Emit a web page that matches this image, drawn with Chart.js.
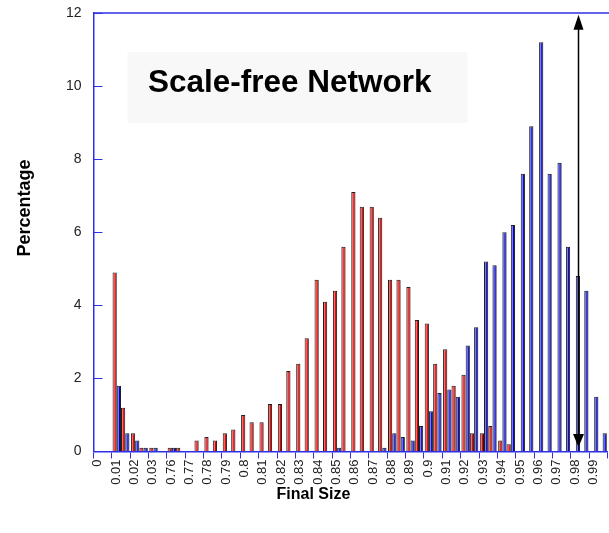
<!DOCTYPE html>
<html>
<head>
<meta charset="utf-8">
<script src="https://cdn.jsdelivr.net/npm/chart.js@4.4.1/dist/chart.umd.min.js"></script>
<style>
  html, body { margin: 0; padding: 0; background: #fff; overflow: hidden; }
  canvas { display: block; }
</style>
</head>
<body>
<canvas id="sizeChart" width="615" height="533"></canvas>
<script>
// bins of final size; each bin has two half-bins, one red and one blue bar in each
var sizes = ['0', '0.01', '0.02', '0.03', '0.76', '0.77', '0.78', '0.79', '0.8', '0.81',
             '0.82', '0.83', '0.84', '0.85', '0.86', '0.87', '0.88', '0.89', '0.9', '0.91',
             '0.92', '0.93', '0.94', '0.95', '0.96', '0.97', '0.98', '0.99'];

var redFirst   = [null, 4.9, 0.5, 0.1, 0.1, null, 0.4, 0.5, 1.0, 0.8, 1.3, 2.4, 4.7, 4.4,
                  7.1, 6.7, 4.7, 4.5, 3.5, 2.8, 2.1, 0.5, 0.3, null, null, null, null, null];
var blueFirst  = [null, 1.8, 0.3, 0.1, 0.1, null, null, null, null, null, null, null, null, 0.1,
                  null, null, 0.5, 0.3, 1.1, 1.7, 2.9, 5.2, 6.0, 7.6, 11.2, 7.9, 4.8, 1.5];
var redSecond  = [null, 1.2, 0.1, null, 0.1, 0.3, 0.3, 0.6, 0.8, 1.3, 2.2, 3.1, 4.1, 5.6,
                  6.7, 6.4, 4.7, 3.6, 2.4, 1.8, 0.5, 0.7, 0.2, null, null, null, null, null];
var blueSecond = [null, 0.5, 0.1, null, null, null, null, null, null, null, null, null, null, null,
                  null, 0.1, 0.4, 0.7, 1.6, 1.5, 3.4, 5.1, 6.2, 8.9, 7.6, 5.6, 4.4, 0.5];

var yTicks = [0, 2, 4, 6, 8, 10, 12];

var axisBlue = '#2f2fe8';
var red = '#e00000';
var blue = '#0000c8';
var edge = '#1e1e1e';
var boldFont = '"Liberation Sans", Arial, sans-serif';

Chart.defaults.font.family = boldFont;
Chart.defaults.color = '#222';

// inside ticks on the y axis, top frame line, titles, bar highlights and the range arrow
var decorations = {
    id: 'decorations',
    beforeDatasetsDraw: function(chart) {
        var ctx = chart.ctx;
        var a = chart.chartArea;
        ctx.save();
        ctx.fillStyle = '#f8f8f8';
        ctx.fillRect(a.left + 34, a.top + 39, 340, 71);
        ctx.fillStyle = '#000';
        ctx.font = 'bold 31.5px ' + boldFont;
        ctx.textAlign = 'left';
        ctx.textBaseline = 'alphabetic';
        ctx.fillText('Scale-free Network', a.left + 54.5, a.top + 78.5);

        // axis titles
        ctx.textAlign = 'center';
        ctx.textBaseline = 'middle';
        ctx.font = 'bold 16px ' + boldFont;
        ctx.fillText('Final Size', a.left + 220, a.bottom + 43);
        ctx.translate(25, a.top + 195);
        ctx.rotate(-Math.PI / 2);
        ctx.font = 'bold 18px ' + boldFont;
        ctx.fillText('Percentage', 0, 0);
        ctx.restore();
    },
    afterDatasetsDraw: function(chart) {
        var ctx = chart.ctx;
        var a = chart.chartArea;
        var y = chart.scales.y;
        ctx.save();

        // pale stripe down the left side of every bar
        chart.data.datasets.forEach(function(ds, i) {
            var tint = i % 2 === 0 ? 'rgba(255,220,220,0.5)' : 'rgba(205,210,255,0.6)';
            chart.getDatasetMeta(i).data.forEach(function(el, j) {
                if (ds.data[j] == null) return;
                var h = el.base - el.y;
                if (h < 3) return;
                ctx.fillStyle = tint;
                ctx.fillRect(el.x - el.width / 2 + 1, el.y + 1, 1.2, h - 1);
            });
        });

        ctx.strokeStyle = axisBlue;
        ctx.lineWidth = 1.5;
        ctx.beginPath();
        ctx.moveTo(a.left, a.top);
        ctx.lineTo(chart.width, a.top);
        ctx.stroke();
        ctx.lineWidth = 1;
        yTicks.forEach(function(v) {
            var py = Math.round(y.getPixelForValue(v)) + 0.5;
            ctx.beginPath();
            ctx.moveTo(a.left, py);
            ctx.lineTo(a.left + 9, py);
            ctx.stroke();
        });

        // double arrow over the 0.98 bin
        var bar = chart.getDatasetMeta(1).data[26];
        var ax = Math.round(bar.x) + 0.5;
        var top = y.getPixelForValue(11.95);
        var bottom = y.getPixelForValue(0.12);
        ctx.strokeStyle = '#000';
        ctx.fillStyle = '#000';
        ctx.lineWidth = 1.5;
        ctx.beginPath();
        ctx.moveTo(ax, top + 8);
        ctx.lineTo(ax, bottom - 8);
        ctx.stroke();
        ctx.beginPath();
        ctx.moveTo(ax, top);
        ctx.lineTo(ax - 5, top + 15);
        ctx.lineTo(ax + 5, top + 15);
        ctx.closePath();
        ctx.fill();
        ctx.beginPath();
        ctx.moveTo(ax, bottom);
        ctx.lineTo(ax - 5.5, bottom - 13);
        ctx.lineTo(ax + 5.5, bottom - 13);
        ctx.closePath();
        ctx.fill();
        ctx.restore();
    }
};

function barSet(values, color) {
    return {
        data: values,
        backgroundColor: color,
        borderColor: edge,
        borderWidth: 1,
        categoryPercentage: 0.92,
        barPercentage: 1
    };
}

var ctx = document.getElementById('sizeChart').getContext('2d');
var sizeChart = new Chart(ctx, {
    type: 'bar',
    data: {
        labels: sizes,
        datasets: [
            barSet(redFirst, red),
            barSet(blueFirst, blue),
            barSet(redSecond, red),
            barSet(blueSecond, blue)
        ]
    },
    options: {
        responsive: false,
        animation: false,
        layout: { padding: { top: 13, right: 0, bottom: 47.2, left: 65.9 } },
        plugins: {
            legend: { display: false },
            tooltip: { enabled: false }
        },
        scales: {
            x: {
                grid: {
                    offset: true,
                    drawOnChartArea: false,
                    drawTicks: true,
                    tickLength: 7,
                    color: axisBlue
                },
                border: { color: axisBlue, width: 1.5 },
                ticks: {
                    autoSkip: false,
                    minRotation: 90,
                    maxRotation: 90,
                    padding: 1,
                    labelOffset: -5,
                    font: { size: 13 }
                }
            },
            y: {
                min: 0,
                max: 12,
                ticks: { stepSize: 2, padding: 0, font: { size: 14 } },
                grid: {
                    display: true,
                    drawOnChartArea: false,
                    drawTicks: true,
                    tickLength: 12,
                    tickColor: 'rgba(0,0,0,0)'
                },
                border: { color: axisBlue, width: 1.5 }
            }
        }
    },
    plugins: [decorations]
});
</script>
</body>
</html>
